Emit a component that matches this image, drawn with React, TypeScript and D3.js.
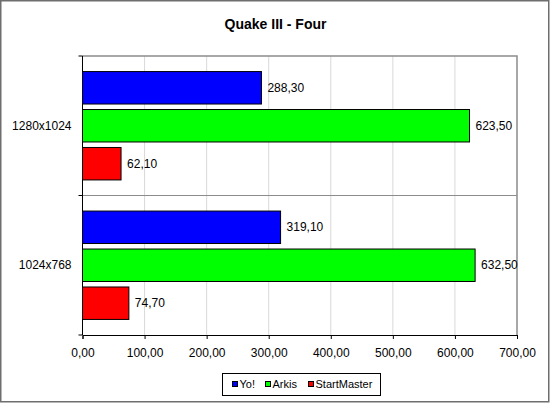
import { useEffect, useRef } from "react"
import * as d3 from "d3"

const categories = ["1280x1024", "1024x768"]
const seriesNames = ["Yo!", "Arkis", "StartMaster"]
const seriesColors = ["#0000ff", "#00ff00", "#ff0000"]
const yoValues = [288.3, 319.1]
const arkisValues = [623.5, 632.5]
const startMasterValues = [62.1, 74.7]
const xTicks = [0, 100, 200, 300, 400, 500, 600, 700]

const fmt = (v: number) => v.toFixed(2).replace(".", ",")

export default function App() {
  const svgRef = useRef<SVGSVGElement>(null)

  useEffect(() => {
    if (!svgRef.current) return
    const width = 550
    const height = 403
    const plot = { left: 82.5, right: 517, top: 56, bottom: 335 }
    const font = "Arial, 'Liberation Sans', sans-serif"

    const svg = d3.select(svgRef.current)
    svg.selectAll("*").remove()

    svg.append("rect").attr("x", 0).attr("y", 0).attr("width", width).attr("height", height).attr("fill", "#fff")
    svg
      .append("rect")
      .attr("x", 0.75)
      .attr("y", 0.75)
      .attr("width", width - 2)
      .attr("height", height - 2)
      .attr("fill", "none")
      .attr("stroke", "#6e6e6e")
      .attr("stroke-width", 1.5)

    // title
    svg
      .append("text")
      .attr("x", 275.5)
      .attr("y", 29)
      .attr("text-anchor", "middle")
      .attr("font-family", font)
      .attr("font-weight", "bold")
      .attr("font-size", "14px")
      .text("Quake III - Four")

    const x = d3.scaleLinear().domain([0, 700]).range([plot.left, plot.right])
    const y = d3.scaleBand<string>().domain(categories).range([plot.top, plot.bottom])
    const inner = d3
      .scaleBand<number>()
      .domain([0, 1, 2])
      .range([0, y.bandwidth()])
      .paddingInner(0.145)
      .paddingOuter(0.41)

    // gridlines
    svg
      .append("g")
      .selectAll("line")
      .data(xTicks.slice(1, -1))
      .join("line")
      .attr("x1", (d) => x(d))
      .attr("x2", (d) => x(d))
      .attr("y1", plot.top)
      .attr("y2", plot.bottom)
      .attr("stroke", "#d9d9d9")

    // plot border (top/right)
    svg
      .append("path")
      .attr("d", `M${plot.left},${plot.top}H${plot.right}V${plot.bottom}`)
      .attr("fill", "none")
      .attr("stroke", "#8c8c8c")
      .attr("stroke-width", 1.5)

    // category separator
    svg
      .append("line")
      .attr("x1", plot.left)
      .attr("x2", plot.right)
      .attr("y1", y(categories[1])!)
      .attr("y2", y(categories[1])!)
      .attr("stroke", "#8c8c8c")

    const seriesValues = [yoValues, arkisValues, startMasterValues]

    categories.forEach((cat, ci) => {
      const g = svg.append("g").attr("transform", `translate(0,${y(cat)})`)
      seriesValues.forEach((vals, si) => {
        const v = vals[ci]
        g.append("rect")
          .attr("x", x(0))
          .attr("y", inner(si)!)
          .attr("width", x(v) - x(0))
          .attr("height", inner.bandwidth())
          .attr("fill", seriesColors[si])
          .attr("stroke", "#000")
        g.append("text")
          .attr("x", x(v) + 6)
          .attr("y", inner(si)! + inner.bandwidth() / 2)
          .attr("dy", "0.35em")
          .attr("font-family", font)
          .attr("font-size", "12px")
          .text(fmt(v))
      })
    })

    // x axis
    const xAxis = svg
      .append("g")
      .attr("transform", `translate(0,${plot.bottom})`)
      .call(d3.axisBottom(x).tickValues(xTicks).tickFormat((d) => fmt(d as number)).tickSize(4).tickPadding(9.5))
    xAxis.selectAll("text").attr("font-family", font).attr("font-size", "12px").attr("fill", "#000")
    xAxis.selectAll("line,path").attr("stroke", "#000")

    // y axis
    const yAxis = svg
      .append("g")
      .attr("transform", `translate(${plot.left},0)`)
      .call(d3.axisLeft(y).tickSize(0).tickPadding(11))
    yAxis.select("path").attr("stroke", "#000").attr("d", `M0,${plot.top}V${plot.bottom}`)
    yAxis.selectAll("text").attr("font-family", font).attr("font-size", "12px").attr("fill", "#000")
    svg
      .append("g")
      .selectAll("line")
      .data([plot.top, y(categories[1])!, plot.bottom])
      .join("line")
      .attr("x1", plot.left - 4)
      .attr("x2", plot.left)
      .attr("y1", (d) => d)
      .attr("y2", (d) => d)
      .attr("stroke", "#000")

    // legend
    const legend = svg.append("g").attr("transform", "translate(222,373)")
    legend
      .append("rect")
      .attr("x", 0.5)
      .attr("y", 0.5)
      .attr("width", 158)
      .attr("height", 22)
      .attr("fill", "#fff")
      .attr("stroke", "#000")
    const itemX = [10, 43, 86]
    seriesNames.forEach((name, i) => {
      legend
        .append("rect")
        .attr("x", itemX[i] + 0.5)
        .attr("y", 8.5)
        .attr("width", 5)
        .attr("height", 5)
        .attr("fill", seriesColors[i])
        .attr("stroke", "#000")
      legend
        .append("text")
        .attr("x", itemX[i] + 7.5)
        .attr("y", 11.5)
        .attr("dy", "0.35em")
        .attr("font-family", font)
        .attr("font-size", "11px")
        .text(name)
    })
  }, [])

  return (
    <svg
      ref={svgRef}
      width={550}
      height={403}
      style={{ position: "absolute", left: 0, top: 0, display: "block" }}
    />
  )
}
